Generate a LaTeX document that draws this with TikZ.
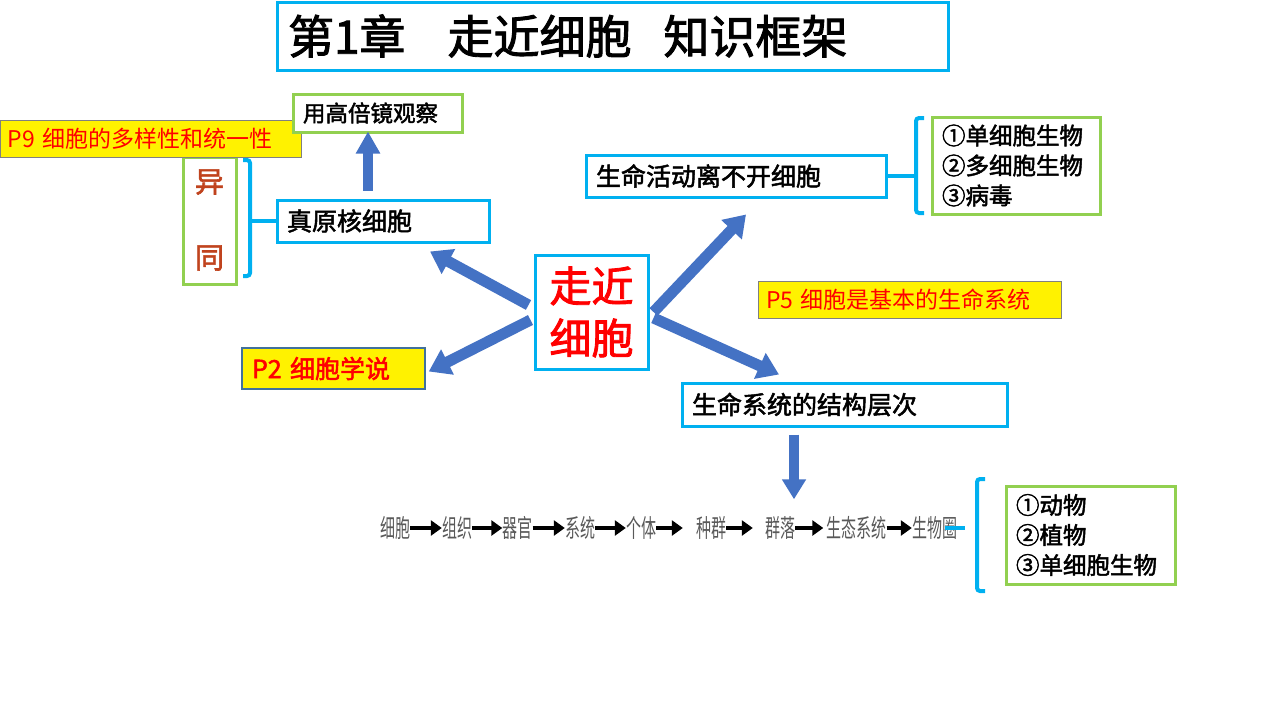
\documentclass[tikz,border=0pt]{standalone}
\usepackage{fontspec}
\setmainfont{Noto Sans CJK SC}[AutoFakeBold=2]
\usetikzlibrary{arrows.meta,positioning}
\definecolor{boxcyan}{HTML}{00B0F0}
\definecolor{boxgreen}{HTML}{92D050}
\definecolor{arrblue}{HTML}{4472C4}
\definecolor{ptblue}{HTML}{41719C}
\definecolor{yitong}{HTML}{C0431E}
\tikzset{
  cbox/.style={draw=boxcyan, line width=3pt, fill=white, align=left, inner xsep=10pt,
    font=\fontsize{25}{30}\selectfont\bfseries},
  gbox/.style={draw=boxgreen, line width=3pt, fill=white, align=left, inner xsep=10pt,
    font=\fontsize{23.5}{30}\selectfont\bfseries},
  pnote/.style={draw=gray, line width=0.8pt, fill=yellow, text=red, align=left, inner xsep=8pt,
    font=\fontsize{23}{28}\selectfont},
  fatarr/.style={draw=arrblue, line width=11pt, -{Triangle[length=21pt,width=27pt]}},
  brace/.style={draw=boxcyan, line width=4pt, rounded corners=3pt},
  chain/.style={inner sep=0pt, text=gray!70!black, font=\fontsize{25}{25}\selectfont},
  chainarr/.style={draw=black, line width=3.2pt, -{Triangle[length=11pt,width=15pt]}}
}
\newcommand{\lvl}[1]{\scalebox{0.6}[1]{#1}}
\begin{document}
\begin{tikzpicture}[x=1pt, y=-1pt]
\useasboundingbox (0,0) rectangle (1280,720);
% title
\node[draw=boxcyan, line width=3pt, minimum height=68pt, text width=649pt, inner xsep=11pt,
  align=left, font=\fontsize{46}{50}\selectfont\bfseries] (title) at (612.5,36)
  {第1章\hspace{42pt}走近细胞\hspace{32pt}知识框架};
% left part
\node[draw=boxgreen, line width=3pt, minimum width=53pt, minimum height=127pt] (yt) at (209.5,220.5) {};
\node[text=yitong, font=\fontsize{29}{30}\selectfont\bfseries] (yi) at (209.5,182) {异};
\node[text=yitong, font=\fontsize{29}{30}\selectfont\bfseries] (tong) at (209.5,258) {同};
\node[pnote, text width=285pt, minimum height=37pt] (p9) at (150.5,138.5) {P9 细胞的多样性和统一性};
\node[gbox, text width=149pt, minimum height=38pt, font=\fontsize{22.5}{26}\selectfont\bfseries] (obs) at (377.5,113) {用高倍镜观察};
\node[cbox, text width=192pt, minimum height=42pt] (pro) at (383,221) {真原核细胞};
\node[draw=ptblue, line width=1.5pt, fill=yellow, text=red, text width=163pt, inner xsep=10pt,
  minimum height=41pt, align=left, font=\fontsize{25}{30}\selectfont\bfseries] (p2) at (333.5,368.5) {P2 细胞学说};
\draw[brace] (243,160) -- (250,160) -- (250,276) -- (243,276);
\draw[brace, rounded corners=0pt] (pro.west) -- (pro.west -| 250,0);
% centre
\node[draw=boxcyan, line width=3pt, minimum width=113pt, minimum height=114pt, align=center,
  text=red, font=\fontsize{42}{52}\selectfont\bfseries] (ctr) at (591.5,312) {走近\\细胞};
% right part
\node[cbox, text width=280pt, minimum height=42pt] (life) at (736,176) {生命活动离不开细胞};
\node[gbox, text width=148pt, minimum height=97pt] (kinds) at (1016,165.5) {①单细胞生物\\②多细胞生物\\③病毒};
\draw[brace] (924,118) -- (916,118) -- (916,213) -- (924,213);
\draw[brace, rounded corners=0pt] (life.east) -- (life.east -| 916,0);
\node[pnote, text width=287pt, minimum height=37pt] (p5) at (909.5,299.5) {P5 细胞是基本的生命系统};
\node[cbox, text width=305pt, minimum height=43pt] (sys) at (844.5,404.5) {生命系统的结构层次};
% arrows
\draw[fatarr, line width=10pt, -{Triangle[length=22pt,width=23pt]}] ([shift={(-15,-8)}]pro.north) -- ([shift={(-9.5,-2)}]obs.south);
\draw[fatarr] ([shift={(-5,-7)}]ctr.west) -- ([shift={(47,8)}]pro.south);
\draw[fatarr] ([shift={(-3,8)}]ctr.west) -- ([shift={(3,3)}]p2.east);
\draw[fatarr] ([shift={(4,0)}]ctr.east) -- ([shift={(10,16)}]life.south);
\draw[fatarr] ([shift={(4,6)}]ctr.east) -- ([shift={(-65.5,-7)}]sys.north);
% levels
\node[chain] (c1) at (395,528) {\lvl{细胞}};
\node[chain] (c2) at (457,528) {\lvl{组织}};
\node[chain] (c3) at (517.5,528) {\lvl{器官}};
\node[chain] (c4) at (580,528) {\lvl{系统}};
\node[chain] (c5) at (641,528) {\lvl{个体}};
\node[chain] (c6) at (711,528) {\lvl{种群}};
\node[chain] (c7) at (780,528) {\lvl{群落}};
\node[chain] (c8) at (856.5,528) {\lvl{生态系统}};
\node[chain] (c9) at (934.5,528) {\lvl{生物圈}};
\draw[fatarr, line width=10pt, -{Triangle[length=20pt,width=23pt]}] ([shift={(-50.5,7)}]sys.south) -- ([shift={(14,-17)}]c7.north);
\draw[chainarr] (c1) -- (c2);
\draw[chainarr] (c2) -- (c3);
\draw[chainarr] (c3) -- (c4);
\draw[chainarr] (c4) -- (c5);
\draw[chainarr, shorten >=13pt] (c5) -- (c6);
\draw[chainarr, shorten >=12pt] (c6) -- (c7);
\draw[chainarr, shorten >=3pt] (c7) -- (c8);
\draw[chainarr] (c8) -- (c9);
\node[gbox, text width=149pt, minimum height=98pt] (life2) at (1090.5,535) {①动物\\②植物\\③单细胞生物};
\draw[brace] (985,479) -- (977,479) -- (977,591) -- (985,591);
\draw[brace, rounded corners=0pt] ([xshift=-12pt]c9.east) -- ([xshift=-12pt]c9.east -| 977,0);
\end{tikzpicture}
\end{document}
